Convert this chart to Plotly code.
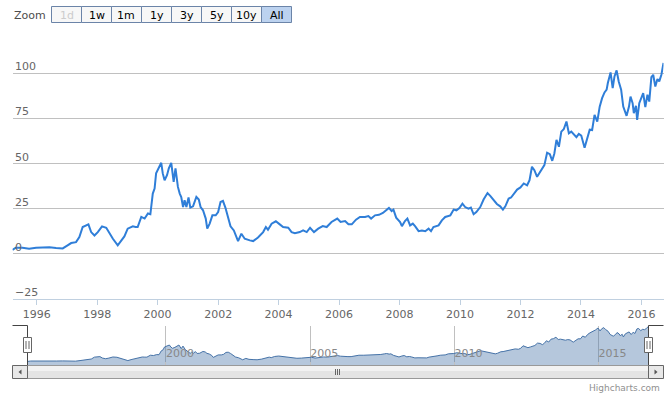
import pandas as pd
import plotly.graph_objects as go

# ---- data (decimal years, values) ----
years = [1995.20,1995.31,1995.53,1995.75,1995.98,1996.20,1996.42,1996.64,1996.86,1997.02,1997.14,1997.30,1997.41,1997.52,1997.63,1997.71,1997.80,1997.91,1998.02,1998.16,1998.30,1998.41,1998.52,1998.68,1998.79,1998.90,1999.01,1999.18,1999.27,1999.34,1999.46,1999.57,1999.68,1999.76,1999.84,1999.90,1999.95,2000.04,2000.12,2000.17,2000.23,2000.31,2000.37,2000.45,2000.53,2000.59,2000.67,2000.73,2000.78,2000.84,2000.89,2000.95,2001.02,2001.08,2001.17,2001.28,2001.36,2001.42,2001.50,2001.59,2001.64,2001.72,2001.81,2001.92,2002.00,2002.08,2002.16,2002.24,2002.33,2002.41,2002.52,2002.58,2002.66,2002.77,2002.88,2003.05,2003.16,2003.32,2003.49,2003.58,2003.65,2003.77,2003.91,2004.04,2004.15,2004.32,2004.43,2004.54,2004.70,2004.81,2004.93,2005.04,2005.17,2005.31,2005.46,2005.59,2005.75,2005.94,2006.05,2006.20,2006.31,2006.42,2006.56,2006.69,2006.86,2006.97,2007.06,2007.19,2007.32,2007.45,2007.58,2007.65,2007.74,2007.80,2007.89,2008.02,2008.08,2008.18,2008.26,2008.35,2008.44,2008.52,2008.63,2008.74,2008.85,2008.96,2009.04,2009.12,2009.29,2009.40,2009.51,2009.68,2009.79,2009.88,2009.98,2010.08,2010.17,2010.28,2010.36,2010.45,2010.54,2010.67,2010.78,2010.91,2011.00,2011.11,2011.22,2011.33,2011.42,2011.50,2011.61,2011.69,2011.77,2011.89,2012.00,2012.11,2012.22,2012.30,2012.38,2012.46,2012.55,2012.64,2012.72,2012.79,2012.88,2012.97,2013.05,2013.12,2013.19,2013.27,2013.35,2013.43,2013.52,2013.60,2013.68,2013.76,2013.85,2013.93,2014.01,2014.12,2014.21,2014.29,2014.37,2014.45,2014.54,2014.62,2014.70,2014.78,2014.85,2014.89,2014.98,2015.05,2015.11,2015.18,2015.25,2015.33,2015.40,2015.45,2015.51,2015.59,2015.64,2015.71,2015.75,2015.82,2015.86,2015.93,2016.00,2016.06,2016.13,2016.20,2016.26,2016.33,2016.39,2016.46,2016.53,2016.59,2016.66,2016.73]

values = [2.0,3.2,3.2,2.6,3.2,3.2,3.5,3.0,2.8,4.5,5.8,6.3,9.1,14.7,15.6,16.2,11.9,10.0,11.9,15.1,14.3,11.0,8.2,4.5,7.3,9.5,13.8,15.1,14.7,14.7,20.3,19.4,22.2,21.8,33.3,36.1,44.5,48.2,50.4,44.5,40.7,43.5,47.3,50.4,39.8,47.3,37.0,33.3,31.4,25.8,29.6,25.8,31.1,25.5,26.2,31.4,30.0,25.8,24.0,19.4,13.8,16.6,21.2,21.2,23.0,28.6,29.2,25.5,20.3,15.1,12.8,10.0,6.9,11.0,8.2,7.3,6.9,8.9,11.9,14.7,13.2,16.6,17.9,16.2,14.7,14.3,11.9,11.3,11.9,12.8,11.9,14.3,11.9,13.8,15.2,14.7,17.5,19.4,17.5,18.0,16.2,16.2,18.8,20.3,20.3,20.8,19.4,21.2,21.5,22.5,24.4,25.3,23.6,24.4,19.9,17.5,15.2,18.0,19.4,15.6,16.6,15.1,12.4,12.8,12.4,13.8,12.4,14.7,15.6,18.4,20.3,21.2,24.4,24.0,25.3,27.7,25.8,24.9,25.5,21.8,23.0,25.8,30.0,33.6,32.0,30.0,27.5,26.2,24.4,26.2,30.5,31.1,32.9,35.5,36.7,38.9,37.9,40.7,48.2,46.3,42.6,44.8,47.3,49.1,56.0,55.2,51.5,55.6,63.1,59.3,67.7,69.0,73.3,66.8,67.7,66.0,64.6,66.4,65.5,58.8,65.0,68.8,68.6,77.0,73.3,81.6,86.3,89.5,91.0,94.7,100.6,91.9,98.4,101.7,95.6,91.0,81.6,78.8,76.5,81.6,87.2,83.5,78.0,82.0,74.2,83.5,87.2,89.1,81.3,88.2,84.4,98.0,99.3,92.8,96.9,95.6,99.3,105.9]

x_tick_years = [1996, 1998, 2000, 2002, 2004, 2006, 2008, 2010, 2012, 2014, 2016]
nav_tick_years = [2000, 2005, 2010, 2015]
y_grid_values = [-25, 0, 25, 50, 75, 100, 125]
y_label_values = [-25, 0, 25, 50, 75, 100]
y_label_texts = ["\u221225", "0", "25", "50", "75", "100"]
zoom_buttons = ["1d", "1w", "1m", "1y", "3y", "5y", "10y", "All"]


def to_date(y):
    yi = int(y)
    start = pd.Timestamp(year=yi, month=1, day=1)
    days = (pd.Timestamp(year=yi + 1, month=1, day=1) - start).days
    return start + pd.Timedelta(days=(y - yi) * days)


dates = [to_date(y) for y in years]
x_tick_dates = [pd.Timestamp(year=y, month=1, day=1) for y in x_tick_years]
nav_tick_dates = [pd.Timestamp(year=y, month=1, day=1) for y in nav_tick_years]

W, H = 671, 399
FONT = "DejaVu Sans"


def px(x):
    return x / W


def py(y):
    return 1 - y / H


fig = go.Figure()

# main series
fig.add_trace(go.Scatter(x=dates, y=values, mode="lines",
                         line=dict(color="#2f7ed8", width=2),
                         hoverinfo="skip", xaxis="x", yaxis="y"))

# navigator series
NAV_FILL = "rgba(69,114,167,0.4)"
fig.add_trace(go.Scatter(x=dates, y=values, mode="lines", fill="tozeroy",
                         fillcolor=NAV_FILL,
                         line=dict(color="#4572A7", width=1),
                         hoverinfo="skip", xaxis="x2", yaxis="y2"))

shapes = []
annotations = []

# y-axis labels, placed on the y scale, just above each grid line
for v, t in zip(y_label_values, y_label_texts):
    annotations.append(dict(xref="paper", yref="y", x=px(14), y=v, text=t,
                            showarrow=False, xanchor="left", yanchor="bottom",
                            yshift=-1, borderpad=0,
                            font=dict(family=FONT, size=11, color="#666666")))

# navigator fill strip below zero to the bottom of the navigator
shapes.append(dict(type="rect", xref="x2", yref="y2", x0=dates[0], x1=dates[-1],
                   y0=-10, y1=0, fillcolor=NAV_FILL, line=dict(width=0), layer="below"))


def path(points):
    s = "M {} {}".format(px(points[0][0]), py(points[0][1]))
    for x, y in points[1:]:
        s += " L {} {}".format(px(x), py(y))
    return s


# navigator outline
shapes.append(dict(type="path", xref="paper", yref="paper",
                   path=path([(12.5, 325.5), (27.5, 325.5), (27.5, 365.5), (648.5, 365.5), (648.5, 325.5), (663.5, 325.5)]),
                   line=dict(color="#444444", width=1)))


def rect(x0, y0, x1, y1, fill, line="#888888", lw=1):
    shapes.append(dict(type="rect", xref="paper", yref="paper",
                       x0=px(x0), x1=px(x1), y0=py(y1), y1=py(y0),
                       fillcolor=fill, line=dict(color=line, width=lw)))


# scrollbar
rect(27.5, 365.5, 648.5, 378.5, "#e4e4e4", "#999999")
rect(28, 366, 648, 371, "#f2f2f2", "rgba(0,0,0,0)", 0)
rect(12.5, 365.5, 27.5, 378.5, "#e8e8e8", "#666666")
rect(648.5, 365.5, 663.5, 378.5, "#e8e8e8", "#666666")
shapes.append(dict(type="path", xref="paper", yref="paper",
                   path=path([(21.5, 369.5), (18.5, 372), (21.5, 374.5)]) + " Z",
                   fillcolor="#555555", line=dict(width=0)))
shapes.append(dict(type="path", xref="paper", yref="paper",
                   path=path([(654.5, 369.5), (657.5, 372), (654.5, 374.5)]) + " Z",
                   fillcolor="#555555", line=dict(width=0)))
for gx in (335.5, 337.5, 339.5):
    shapes.append(dict(type="line", xref="paper", yref="paper",
                       x0=px(gx), x1=px(gx), y0=py(369), y1=py(375),
                       line=dict(color="#666666", width=1)))

# navigator handles
for cx in (27.5, 648.5):
    rect(cx - 4, 337.5, cx + 4, 352.5, "#ffffff", "#666666")
    for dx in (-1.5, 1.5):
        shapes.append(dict(type="line", xref="paper", yref="paper",
                           x0=px(cx + dx), x1=px(cx + dx), y0=py(341), y1=py(349),
                           line=dict(color="#666666", width=1)))

# range selector
annotations.append(dict(xref="paper", yref="paper", x=px(12), y=py(15), text="Zoom",
                        showarrow=False, xanchor="left", yanchor="middle",
                        font=dict(family=FONT, size=11, color="#4d4d4d")))
for i, lab in enumerate(zoom_buttons):
    x0 = 51.5 + 30 * i
    selected = lab == "All"
    fill = "#bcd2ef" if selected else "#f7f7f7"
    rect(x0, 6.5, x0 + 30, 22.5, fill, "#6b84a8")
    col = "#cccccc" if lab == "1d" else "#000000"
    annotations.append(dict(xref="paper", yref="paper", x=px(x0 + 15), y=py(15),
                            text=lab, showarrow=False, xanchor="center", yanchor="middle",
                            font=dict(family=FONT, size=11, color=col)))

# credits
annotations.append(dict(xref="paper", yref="paper", x=px(662), y=py(388),
                        text="Highcharts.com", showarrow=False, xanchor="right",
                        yanchor="middle", font=dict(family=FONT, size=9, color="#909090")))

fig.update_layout(
    width=W, height=H, margin=dict(l=0, r=0, t=0, b=0),
    paper_bgcolor="white", plot_bgcolor="white", showlegend=False,
    font=dict(family=FONT, size=11, color="#666666"),
    xaxis=dict(domain=[px(12.5), px(663.5)], anchor="y", type="date",
               range=[dates[0], dates[-1]], tickmode="array",
               tickvals=x_tick_dates, ticktext=[str(y) for y in x_tick_years],
               showgrid=False, zeroline=False,
               showline=True, linecolor="#C0D0E0", linewidth=1,
               ticks="outside", ticklen=5, tickcolor="#C0D0E0",
               tickfont=dict(family=FONT, size=11, color="#666666")),
    yaxis=dict(domain=[py(298.5), py(28.5)], anchor="x", range=[-25, 125],
               tickmode="array", tickvals=y_grid_values,
               showgrid=True, gridcolor="#C0C0C0", gridwidth=1, zeroline=False,
               showline=False, ticks="", showticklabels=False),
    xaxis2=dict(domain=[px(27.5), px(648.5)], anchor="y2", type="date",
                range=[dates[0], dates[-1]], tickmode="array",
                tickvals=nav_tick_dates, ticktext=[str(y) for y in nav_tick_years],
                showgrid=True, gridcolor="#C0C0C0", zeroline=False,
                showline=False, ticks="", ticklabelposition="inside right",
                tickfont=dict(family=FONT, size=11, color="#888888")),
    yaxis2=dict(domain=[py(365.5), py(325.5)], anchor="x2", range=[-10, 108],
                showgrid=False, zeroline=False, showticklabels=False, showline=False),
    shapes=shapes, annotations=annotations,
)

fig.write_html("out.html", config={"displayModeBar": False},
               post_script="document.body.style.margin='0';")
